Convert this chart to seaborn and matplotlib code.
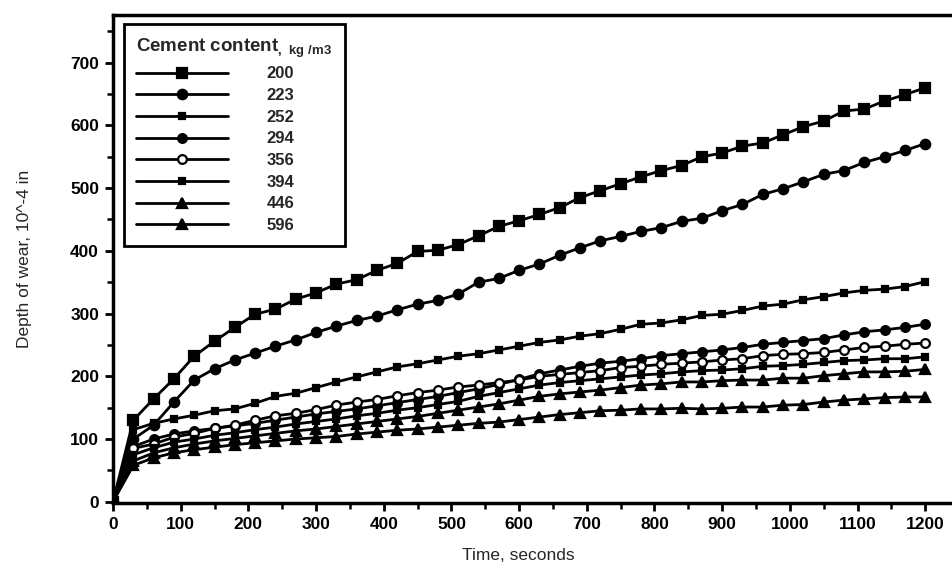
import numpy as np
import pandas as pd
import matplotlib
matplotlib.use("Agg")
import matplotlib.pyplot as plt
from matplotlib.ticker import MultipleLocator
import seaborn as sns

# ─────────────────────────────────────────────
# DATA (30 s steps)
# ─────────────────────────────────────────────
time_s = list(range(0, 1201, 30))

wear_200 = [0, 130, 164, 196, 232, 256, 278, 299, 307, 323, 333, 347, 354, 369, 380, 399,
            401, 410, 424, 439, 448, 458, 469, 485, 496, 507, 518, 528, 536, 550, 556,
            567, 572, 585, 598, 607, 623, 626, 639, 649, 660]
wear_223 = [0, 100, 122, 159, 194, 212, 226, 237, 248, 258, 270, 280, 289, 296, 306, 315,
            321, 331, 350, 356, 369, 379, 393, 405, 416, 423, 431, 437, 447, 452, 464,
            474, 490, 499, 510, 522, 528, 541, 550, 560, 571]
wear_252 = [0, 115, 125, 132, 138, 145, 148, 157, 168, 173, 182, 191, 199, 207, 215, 220,
            226, 232, 236, 242, 248, 254, 258, 264, 268, 275, 283, 285, 290, 297, 299,
            305, 312, 315, 322, 327, 333, 337, 339, 343, 351]
wear_294 = [0, 88, 100, 108, 113, 117, 121, 125, 130, 135, 140, 144, 148, 153, 158, 163,
            168, 174, 180, 187, 195, 204, 210, 216, 221, 224, 228, 233, 236, 239, 242,
            246, 251, 254, 257, 260, 266, 271, 274, 278, 283]
wear_356 = [0, 85, 92, 103, 109, 117, 122, 130, 137, 141, 147, 154, 159, 163, 169, 174,
            178, 183, 186, 190, 194, 200, 203, 206, 209, 214, 216, 219, 221, 223, 226,
            228, 233, 235, 236, 238, 242, 246, 248, 251, 253]
wear_394 = [0, 75, 86, 95, 100, 106, 110, 115, 119, 124, 128, 132, 137, 141, 146, 150,
            155, 160, 168, 174, 180, 186, 190, 193, 196, 199, 202, 204, 207, 209, 210,
            212, 216, 217, 219, 222, 225, 226, 228, 228, 231]
wear_446 = [0, 65, 78, 86, 92, 97, 101, 105, 109, 113, 116, 120, 124, 128, 132, 136,
            141, 146, 151, 156, 162, 168, 172, 175, 178, 182, 186, 188, 191, 191, 193,
            194, 194, 197, 197, 201, 204, 207, 207, 208, 211]
wear_596 = [0, 58, 70, 78, 83, 87, 91, 94, 97, 100, 102, 104, 108, 111, 114, 116,
            119, 122, 125, 127, 131, 135, 139, 142, 145, 146, 148, 148, 149, 148, 149,
            151, 151, 154, 155, 159, 162, 164, 166, 167, 167]

cement_labels = ["200", "223", "252", "294", "356", "394", "446", "596"]
series = [wear_200, wear_223, wear_252, wear_294, wear_356, wear_394, wear_446, wear_596]

# marker style per cement content: (marker, size, face colour)
STYLES = {
    "200": ("s", 7.5, "black"),
    "223": ("o", 6.8, "black"),
    "252": ("s", 4.2, "black"),
    "294": ("o", 6.3, "black"),
    "356": ("o", 6.3, "white"),
    "394": ("s", 4.2, "black"),
    "446": ("^", 6.5, "black"),
    "596": ("^", 6.5, "black"),
}

# ─────────────────────────────────────────────
# PLOT
# ─────────────────────────────────────────────
sns.set_theme(style="ticks")
plt.rcParams["font.family"] = ["Liberation Sans", "DejaVu Sans"]
plt.rcParams["mathtext.fontset"] = "custom"
plt.rcParams["mathtext.bf"] = "Liberation Sans:bold"
plt.rcParams["mathtext.rm"] = "Liberation Sans"

fig = plt.figure(figsize=(9.53, 5.70), dpi=100)
ax = fig.add_axes([113 / 953, 67 / 570, 840 / 953, 488 / 570])

for label, values in zip(cement_labels, series):
    df = pd.DataFrame({"time": time_s, "wear": values})
    marker, size, face = STYLES[label]
    sns.lineplot(
        data=df, x="time", y="wear", ax=ax, label=label,
        color="black", linewidth=2.0, marker=marker, markersize=size,
        markerfacecolor=face, markeredgecolor="black", markeredgewidth=1.6,
    )

ax.set_xlim(0, 1241)
ax.set_ylim(-2, 776)
ax.xaxis.set_major_locator(MultipleLocator(100))
ax.xaxis.set_minor_locator(MultipleLocator(50))
ax.yaxis.set_major_locator(MultipleLocator(100))
ax.yaxis.set_minor_locator(MultipleLocator(50))
ax.tick_params(which="major", direction="out", length=6, width=2, colors="black",
               labelsize=12.5, pad=4)
ax.tick_params(which="minor", direction="out", length=4, width=1.8, colors="black")
for lab in ax.get_xticklabels() + ax.get_yticklabels():
    lab.set_fontweight("bold")

for side in ["left", "bottom", "top"]:
    ax.spines[side].set_linewidth(2.5)
    ax.spines[side].set_color("black")
ax.spines["right"].set_visible(False)

ax.set_xlabel("Time, seconds", fontsize=12.5)
ax.set_ylabel("Depth of wear, 10^-4 in", fontsize=12.5)
ax.xaxis.set_label_coords(0.483, -0.093)
ax.yaxis.set_label_coords(-0.096, 0.5)

leg = ax.legend(
    loc="upper left", bbox_to_anchor=(0.013, 0.982), borderaxespad=0,
    title=r"Cement content$_{\mathbf{,\ kg\ /m3}}$", alignment="left",
    title_fontproperties={"size": 13.5, "weight": "bold"},
    prop={"size": 12, "weight": "bold"},
    handlelength=5.5, handletextpad=2.3, labelspacing=0.4,
    frameon=True, fancybox=False, framealpha=1, borderpad=0.75,
)
leg.get_frame().set_edgecolor("black")
leg.get_frame().set_linewidth(2.0)

plt.savefig("out.png", dpi=100)
